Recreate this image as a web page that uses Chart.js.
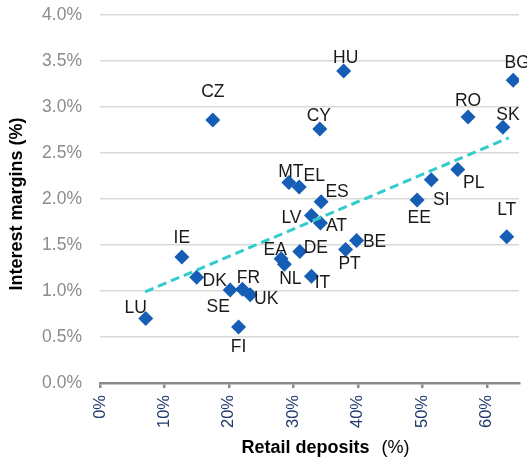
<!DOCTYPE html>
<html>
<head>
<meta charset="utf-8">
<script src="https://cdn.jsdelivr.net/npm/chart.js@4/dist/chart.umd.min.js"></script>
<style>
html,body{margin:0;padding:0;background:#fff;}
#wrap{width:527px;height:461px;}
</style>
</head>
<body>
<div id="wrap"><canvas id="c" width="527" height="461"></canvas></div>
<script>
// ---- data ----
const countries = ['LU','IE','DK','SE','FR','UK','FI','CZ','HU','BG','RO','SK','CY','MT','EL','ES','PL','SI','EE','LV','AT','LT','EA','NL','DE','IT','PT','BE'];
const retailDeposits = [7.1,12.7,15.0,20.2,22.1,23.3,21.5,17.5,37.8,64.1,57.1,62.5,34.1,29.3,30.9,34.3,55.5,51.4,49.2,32.8,34.2,63.1,28.1,28.6,31.0,32.8,38.1,39.8];
const interestMargins = [0.70,1.37,1.15,1.01,1.02,0.96,0.61,2.86,3.39,3.29,2.89,2.78,2.76,2.18,2.13,1.97,2.32,2.21,1.99,1.82,1.74,1.59,1.35,1.29,1.43,1.16,1.45,1.55];
const trendX = [7.0, 63.4];
const trendY = [0.99, 2.665];
const xTickValues = [0,10,20,30,40,50,60];
const yTickValues = [0,0.5,1,1.5,2,2.5,3,3.5,4];
const xTitleBold = 'Retail deposits';
const xTitleUnit = '(%)';
const yTitle = 'Interest margins (%)';

// label nudges (pixels, relative to each marker)
const labelNudge = [[-10,-12],[0,-20],[18,3],[-12,16],[6,-12],[16,3],[0,19],[0,-29],[2,-14],[4,-19],[0,-17],[5,-14],[-1,-14],[2,-12],[15,-12],[16,-11],[16,12],[10,19],[2,17],[-20,1],[16,2],[0,-28],[-6,-10],[6,13],[16,-5],[11,5],[4,13],[18,0]];

const FONT = '"Liberation Sans", Arial, Helvetica, sans-serif';

const scatterData = countries.map((c,i)=>({x:retailDeposits[i], y:interestMargins[i]}));
const trendData = trendX.map((x,i)=>({x:x, y:trendY[i]}));

const labelPlugin = {
  id:'labels',
  afterDatasetsDraw(chart){
    const ctx = chart.ctx;
    const meta = chart.getDatasetMeta(1);
    const fs = 17.5;
    ctx.save();
    ctx.font = fs + 'px ' + FONT;
    ctx.fillStyle = '#1a1a1a';
    ctx.textAlign = 'center';
    ctx.textBaseline = 'alphabetic';
    meta.data.forEach((pt,i)=>{
      const n = labelNudge[i];
      ctx.fillText(countries[i], pt.x + n[0], pt.y + n[1] + fs*0.358);
    });
    ctx.restore();
  },
  afterDraw(chart){
    const ctx = chart.ctx;
    const area = chart.chartArea;
    ctx.save();
    // x title
    ctx.fillStyle = '#000';
    ctx.textBaseline = 'alphabetic';
    ctx.font = 'bold 18px ' + FONT;
    const w1 = ctx.measureText(xTitleBold).width;
    ctx.font = '18px ' + FONT;
    const gap = 12;
    const w2 = ctx.measureText(xTitleUnit).width;
    const total = w1 + gap + w2;
    const cx = (area.left + area.right)/2 + 16;
    let sx = cx - total/2;
    ctx.textAlign = 'left';
    ctx.font = 'bold 18px ' + FONT;
    ctx.fillText(xTitleBold, sx, 453);
    ctx.font = '18px ' + FONT;
    ctx.fillText(xTitleUnit, sx + w1 + gap, 453);
    // y title
    ctx.translate(22, (area.top + area.bottom)/2 + 5);
    ctx.rotate(-Math.PI/2);
    ctx.textAlign = 'center';
    ctx.font = 'bold 18px ' + FONT;
    ctx.fillText(yTitle, 0, 0);
    ctx.restore();
  }
};

new Chart(document.getElementById('c'), {
  type:'scatter',
  data:{
    datasets:[
      {
        type:'line',
        data: trendData,
        borderColor:'#33cccc',
        borderWidth:3,
        borderDash:[9,5],
        pointRadius:0,
        fill:false,
        order:0
      },
      {
        data: scatterData,
        pointStyle:'rectRot',
        pointRadius:7.5,
        pointHoverRadius:7.5,
        backgroundColor:'#165db5',
        borderWidth:0,
        order:1
      }
    ]
  },
  options:{
    responsive:false,
    animation:false,
    events:[],
    layout:{autoPadding:false, padding:{left:0,right:8,top:15,bottom:0}},
    plugins:{legend:{display:false}, tooltip:{enabled:false}},
    scales:{
      x:{
        type:'linear',
        min:0, max:65,
        bounds:'data',
        afterFit(s){ s.height = 78; s.paddingLeft = 0; s.paddingRight = 0; },
        afterBuildTicks(s){ s.ticks = xTickValues.map(v=>({value:v})); },
        ticks:{
          autoSkip:false,
          minRotation:90, maxRotation:90,
          padding:7,
          color:'#1f3a6b',
          font:{family:FONT, size:16.5},
          callback:(v)=> v + '%'
        },
        grid:{display:true, drawOnChartArea:false, drawTicks:true, tickLength:5, color:'#8a8a8a', lineWidth:2.5},
        border:{display:true, color:'#8a8a8a', width:2.5}
      },
      y:{
        type:'linear',
        min:0, max:4,
        afterFit(s){ s.width = 100; s.paddingTop = 0; s.paddingBottom = 0; },
        afterBuildTicks(s){ s.ticks = yTickValues.map(v=>({value:v})); },
        ticks:{
          padding:18,
          color:'#8c8c8c',
          font:{family:FONT, size:17.5},
          callback:(v)=> v.toFixed(1) + '%'
        },
        grid:{color:'#d9d9d9', lineWidth:1.5, drawTicks:false},
        border:{display:false}
      }
    }
  },
  plugins:[labelPlugin]
});
</script>
</body>
</html>
